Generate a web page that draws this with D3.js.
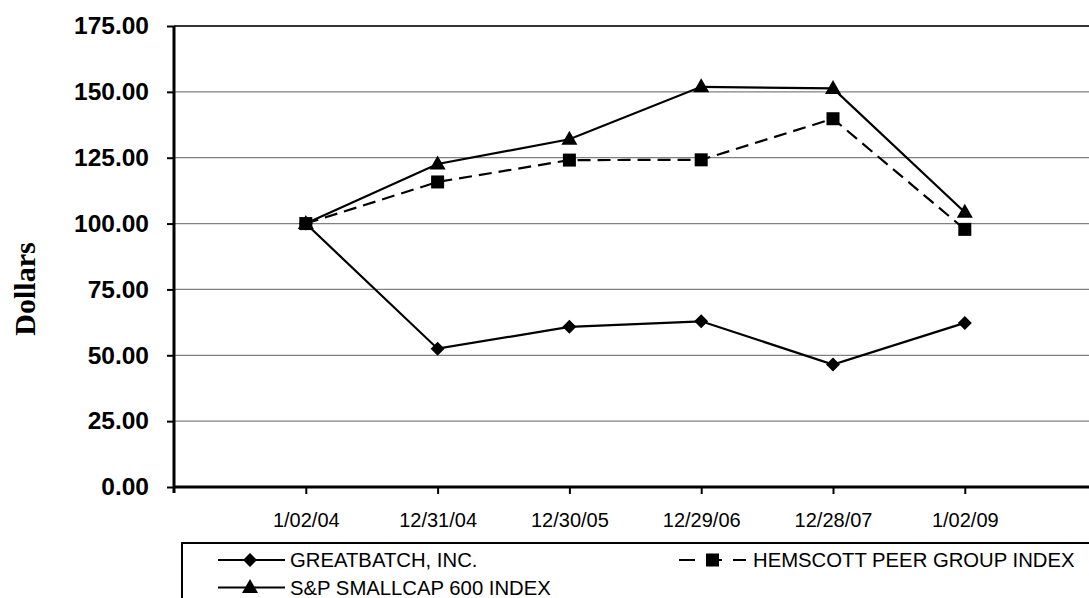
<!DOCTYPE html>
<html>
  <head>
    <meta charset="utf-8">
    <title>Performance graph</title>
    <script src="https://cdn.jsdelivr.net/npm/d3@7/dist/d3.min.js"></script>
    <style>
      body { margin: 0; background: #fff; }
      svg { display: block; }
      .ytick text { font-family: Arial, "Liberation Sans", sans-serif; font-weight: bold; font-size: 24.5px; }
      .xtick text { font-family: Arial, "Liberation Sans", sans-serif; font-size: 20px; }
      .legend text { font-family: Arial, "Liberation Sans", sans-serif; font-size: 20.3px; }
      #ytitle { font-family: "Times New Roman", "Liberation Serif", serif; font-weight: bold; font-size: 30px; }
    </style>
  </head>

  <body>
    <svg id="chart" width="1089" height="598"></svg>

    <script>
      // data
      dates = ["1/02/04", "12/31/04", "12/30/05", "12/29/06", "12/28/07", "1/02/09"];
      greatbatch = [100.00, 52.5, 60.8, 62.9, 46.5, 62.3];
      hemscott = [100.00, 115.8, 124.1, 124.2, 139.8, 97.8];
      smallcap = [100.00, 122.6, 132.0, 151.9, 151.3, 104.3];
      yTicks = [0, 25, 50, 75, 100, 125, 150, 175];
      seriesNames = ["GREATBATCH, INC.", "HEMSCOTT PEER GROUP INDEX", "S&P SMALLCAP 600 INDEX"];

      series = [
        { name: seriesNames[0], values: greatbatch, marker: "diamond", dash: null },
        { name: seriesNames[1], values: hemscott, marker: "square", dash: "13,7" },
        { name: seriesNames[2], values: smallcap, marker: "triangle", dash: null }
      ];

      // page elements
      svg = d3.select("#chart");
      margin = { top: 26, left: 174, bottom: 487, right: 1100 };

      // scales: categories sit on ticks, with an empty slot before the first
      x = d3.scaleLinear()
        .domain([-1, 6])
        .range([margin.left, margin.left + 7 * 131.8]);
      y = d3.scaleLinear()
        .domain([0, 175])
        .range([margin.bottom, margin.top]);

      // gridlines
      svg.append("g")
        .selectAll("line")
        .data(yTicks.filter(function(d) { return d > 0; }))
        .enter().append("line")
          .attr("x1", margin.left)
          .attr("x2", margin.right)
          .attr("y1", function(d) { return y(d); })
          .attr("y2", function(d) { return y(d); })
          .attr("stroke", function(d) { return d == 175 ? "#333" : "#808080"; })
          .attr("stroke-width", function(d) { return d == 175 ? 2 : 1.2; });

      // y axis
      yAxis = d3.axisLeft(y)
        .tickValues(yTicks)
        .tickSize(7)
        .tickPadding(18)
        .tickFormat(d3.format(".2f"));
      svg.append("g")
        .attr("class", "ytick")
        .attr("transform", "translate(" + margin.left + ",0)")
        .call(yAxis)
        .call(function(g) {
          g.select(".domain").remove();
          g.selectAll(".tick line").attr("stroke", "#000").attr("stroke-width", 2);
          g.selectAll(".tick text").attr("fill", "#000");
        });

      // x axis
      xAxis = d3.axisBottom(x)
        .tickValues(d3.range(6))
        .tickSize(7)
        .tickPadding(19)
        .tickFormat(function(d) { return dates[d]; });
      svg.append("g")
        .attr("class", "xtick")
        .attr("transform", "translate(0," + margin.bottom + ")")
        .call(xAxis)
        .call(function(g) {
          g.select(".domain").remove();
          g.selectAll(".tick line").attr("stroke", "#000").attr("stroke-width", 2);
          g.selectAll(".tick text").attr("fill", "#000");
        });

      // axis lines
      svg.append("line")
        .attr("x1", margin.left).attr("x2", margin.left)
        .attr("y1", margin.top).attr("y2", margin.bottom + 6)
        .attr("stroke", "#000").attr("stroke-width", 3);
      svg.append("line")
        .attr("x1", margin.left).attr("x2", margin.right)
        .attr("y1", margin.bottom).attr("y2", margin.bottom)
        .attr("stroke", "#000").attr("stroke-width", 3);

      // y title
      svg.append("text")
        .attr("id", "ytitle")
        .attr("transform", "translate(35,289) rotate(-90)")
        .attr("text-anchor", "middle")
        .text("Dollars");

      // markers
      function marker(g, type, cx, cy) {
        if (type == "diamond") {
          g.append("path")
            .attr("d", "M" + cx + "," + (cy - 7) + "L" + (cx + 7) + "," + cy + "L" + cx + "," + (cy + 7) + "L" + (cx - 7) + "," + cy + "Z");
        } else if (type == "square") {
          g.append("rect")
            .attr("x", cx - 6.5).attr("y", cy - 6.5)
            .attr("width", 13).attr("height", 13);
        } else {
          g.append("path")
            .attr("d", "M" + cx + "," + (cy - 8.5) + "L" + (cx + 8) + "," + (cy + 5.5) + "L" + (cx - 8) + "," + (cy + 5.5) + "Z");
        }
      }

      line = d3.line()
        .x(function(d, i) { return x(i); })
        .y(function(d) { return y(d); });

      series.forEach(function(s) {
        g = svg.append("g");
        g.append("path")
          .datum(s.values)
          .attr("d", line)
          .attr("fill", "none")
          .attr("stroke", "#000")
          .attr("stroke-width", 2.2)
          .attr("stroke-dasharray", s.dash);
        s.values.forEach(function(v, i) {
          marker(g, s.marker, x(i), y(v));
        });
      });

      // legend
      legend = svg.append("g").attr("class", "legend");
      legend.append("rect")
        .attr("x", 182).attr("y", 543)
        .attr("width", 1000).attr("height", 100)
        .attr("fill", "#fff")
        .attr("stroke", "#000")
        .attr("stroke-width", 2);
      legendPos = [[218, 560], [679, 560], [218, 587.5]];
      series.forEach(function(s, i) {
        p = legendPos[i];
        lg = legend.append("g");
        lg.append("line")
          .attr("x1", p[0]).attr("x2", p[0] + 67)
          .attr("y1", p[1]).attr("y2", p[1])
          .attr("stroke", "#000")
          .attr("stroke-width", 2.2)
          .attr("stroke-dasharray", s.dash ? "16,11" : null);
        marker(lg, s.marker, p[0] + (s.dash ? 33.5 : 32), p[1]);
        lg.append("text")
          .attr("x", p[0] + (s.dash ? 74 : 72))
          .attr("y", p[1] + 7)
          .text(s.name);
      });
    </script>
  </body>
</html>
